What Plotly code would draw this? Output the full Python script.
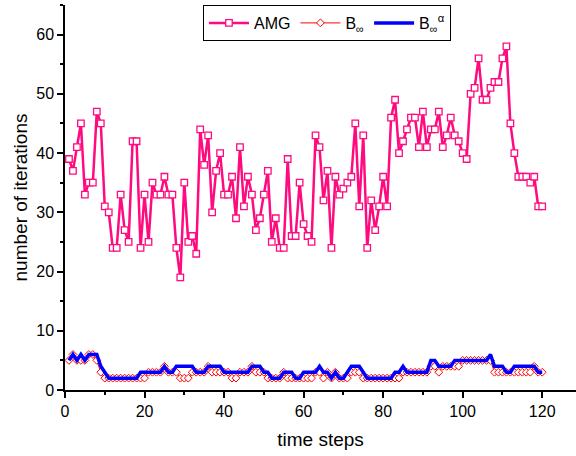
import plotly.graph_objects as go

# time steps
steps = list(range(1, 121))

# AMG iterations per time step
amg = [39, 37, 41, 45, 33, 35, 35, 47, 45, 31,
       30, 24, 24, 33, 27, 25, 42, 42, 24, 33,
       25, 35, 33, 33, 36, 33, 33, 24, 19, 35,
       25, 26, 23, 44, 38, 43, 30, 37, 40, 33,
       33, 36, 29, 41, 31, 36, 33, 27, 29, 33,
       37, 25, 29, 24, 24, 39, 26, 26, 35, 28,
       26, 25, 43, 41, 32, 37, 24, 36, 33, 34,
       35, 36, 45, 31, 43, 24, 32, 27, 31, 36,
       31, 46, 49, 40, 42, 44, 46, 46, 41, 47,
       41, 44, 44, 47, 41, 43, 46, 43, 42, 40,
       39, 50, 51, 56, 49, 49, 51, 52, 52, 56,
       58, 45, 40, 36, 36, 36, 35, 36, 31, 31]

# B_inf iterations
b_inf = [5, 6, 5, 5, 5, 6, 6, 5, 3, 2,
         2, 2, 2, 2, 2, 2, 2, 2, 2, 2,
         3, 3, 3, 3, 4, 3, 3, 3, 2, 2,
         2, 3, 3, 3, 3, 4, 3, 3, 3, 3,
         3, 2, 2, 3, 3, 3, 4, 3, 3, 3,
         2, 2, 2, 2, 3, 2, 2, 2, 2, 2,
         2, 2, 3, 3, 2, 3, 2, 3, 2, 2,
         2, 3, 3, 3, 2, 2, 2, 2, 2, 2,
         2, 2, 2, 2, 3, 3, 3, 3, 3, 3,
         3, 4, 4, 3, 4, 4, 4, 4, 4, 5,
         5, 5, 5, 5, 5, 5, 5, 3, 3, 3,
         3, 3, 3, 3, 3, 3, 3, 4, 3, 3]

# B_inf^alpha iterations
b_inf_a = [5, 6, 5, 6, 5, 6, 6, 6, 4, 3,
           2, 2, 2, 2, 2, 2, 2, 2, 3, 3,
           3, 3, 3, 3, 4, 3, 3, 4, 4, 4,
           4, 4, 3, 3, 3, 4, 4, 4, 4, 3,
           3, 3, 3, 3, 3, 3, 4, 4, 4, 3,
           3, 2, 2, 2, 3, 3, 3, 2, 2, 3,
           3, 3, 3, 4, 3, 3, 2, 3, 2, 2,
           3, 4, 4, 4, 3, 2, 2, 2, 2, 2,
           2, 2, 3, 3, 4, 3, 3, 3, 3, 3,
           3, 5, 5, 4, 4, 4, 4, 5, 5, 5,
           5, 5, 5, 5, 5, 5, 6, 4, 4, 4,
           3, 3, 4, 4, 4, 4, 4, 4, 3, 3]

FONT = "Liberation Sans, Arial, sans-serif"

fig = go.Figure()

fig.add_trace(go.Scatter(
    x=steps, y=amg, name="AMG", mode="lines+markers",
    line=dict(color="#ff0a7f", width=2.5),
    marker=dict(symbol="square", size=6.5, color="white",
                line=dict(color="#ff0a7f", width=1.3)),
))

fig.add_trace(go.Scatter(
    x=steps, y=b_inf, name="B<sub>∞</sub>", mode="lines+markers",
    line=dict(color="#ff0000", width=1),
    marker=dict(symbol="diamond", size=6, color="white",
                line=dict(color="#ff0000", width=1)),
))

fig.add_trace(go.Scatter(
    x=steps, y=b_inf_a, name="B<sub>∞</sub><sup>α</sup>", mode="lines",
    line=dict(color="#0000ff", width=3.5),
))

axis_common = dict(
    showline=True, linecolor="black", linewidth=1.5, mirror=False,
    ticks="outside", tickcolor="black", tickwidth=1.5, ticklen=6,
    showgrid=False, zeroline=False, automargin=False,
    tickfont=dict(family=FONT, size=16, color="black"),
)

fig.update_xaxes(
    range=[0, 128.5], dtick=20, tick0=0,
    minor=dict(dtick=10, ticks="outside", ticklen=3, tickcolor="black", tickwidth=1.5),
    title=dict(text="time steps", font=dict(family=FONT, size=19, color="black"), standoff=14),
    **axis_common,
)
fig.update_yaxes(
    range=[0, 65], dtick=10, tick0=0,
    minor=dict(dtick=5, ticks="outside", ticklen=3, tickcolor="black", tickwidth=1.5),
    title=dict(text="number of iterations", font=dict(family=FONT, size=19, color="black"), standoff=4),
    **axis_common,
)

fig.update_layout(
    width=576, height=456,
    margin=dict(l=65, r=0, t=5, b=66),
    plot_bgcolor="white", paper_bgcolor="white",
    font=dict(family=FONT, color="black"),
    legend=dict(
        orientation="h", x=0.27, y=1, xanchor="left", yanchor="top",
        bordercolor="black", borderwidth=1, bgcolor="white",
        font=dict(family=FONT, size=16, color="black"),
        itemwidth=40,
    ),
)

# drop the page's default body margin so the figure sits at the window corner
fig.write_html("out.html", config={"displayModeBar": False},
               post_script="document.body.style.margin='0';")
